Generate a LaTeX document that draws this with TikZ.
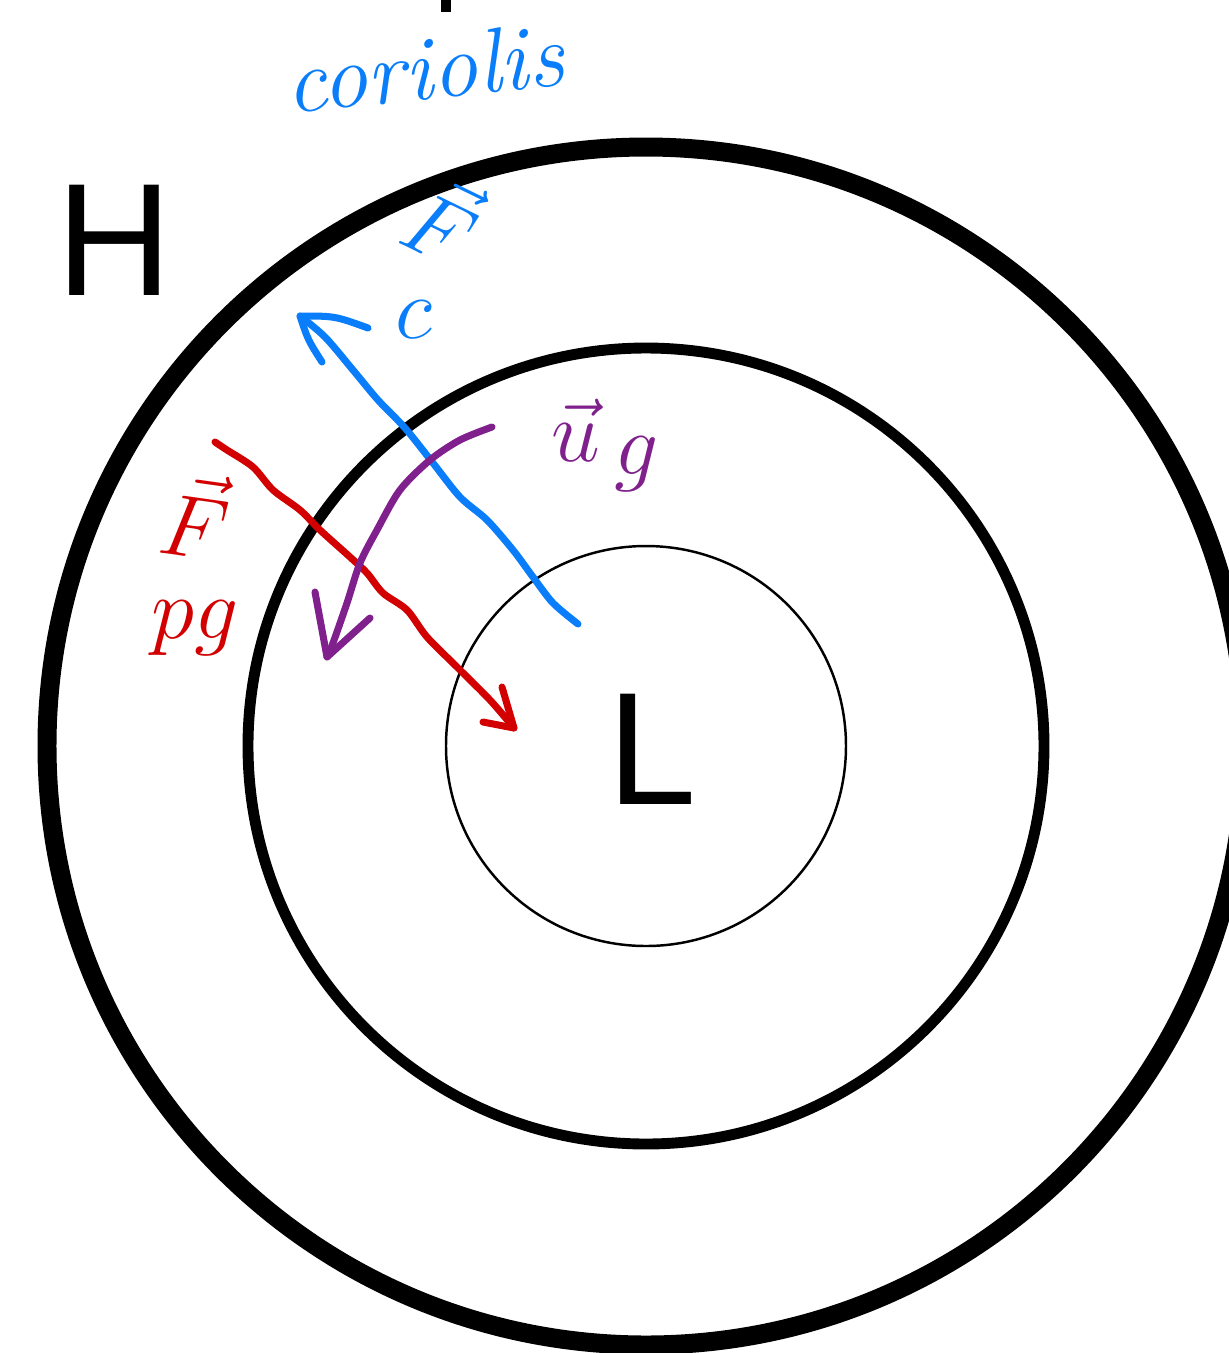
\documentclass[tikz,border=0pt]{standalone}
\usepackage{fontspec}
\newfontfamily\arialfont{Liberation Sans}
\definecolor{cblue}{RGB}{10,126,250}
\definecolor{cred}{RGB}{210,0,0}
\definecolor{cpurple}{RGB}{128,32,140}
\begin{document}
\begin{tikzpicture}[x=.01cm,y=-.01cm,line cap=round,line join=round,
  every node/.style={inner sep=0pt},
  pen/.style={line width=2pt},
  big/.style={font=\arialfont\fontsize{45.6}{46}\selectfont},
  hand/.style={font=\fontsize{#1}{#1}\selectfont}]
  \path[use as bounding box] (0,0) rectangle (1229,1353);
  \coordinate (O) at (646,746);
  \draw[line width=5.4pt] (O) circle[radius=599];
  \draw[line width=3.1pt] (O) circle[radius=398];
  \draw[line width=.7pt] (O) circle[radius=200];
  \fill (441,0) rectangle (451,12);
  \node[big] (H) at (114,240) {H};
  \node[big] (L) at (652,749) {L};
  % coriolis
  \coordinate (Cs) at (578,624);
  \coordinate (Ce) at (300,316);
  \draw[pen,cblue] plot[smooth] coordinates {(Cs) (553,603) (533,577) (513,550) (487,520)
    (460,497) (433,463) (405,428) (378,400) (353,370) (325,337) (Ce)};
  \draw[pen,cblue] (322,362) .. controls (308,340) .. (Ce) .. controls (335,316) .. (368,328);
  \node[hand=26,cblue,rotate=6] (cor) at (424,68) {\itshape coriolis};
  \node[hand=25,cblue,rotate=-26] (Fc) at (444,218) {$\vec F$};
  \node[hand=25,cblue] (c) at (414,320) {$c$};
  % pressure gradient
  \coordinate (Ps) at (215,442);
  \coordinate (Pe) at (514,728);
  \draw[pen,cred] plot[smooth] coordinates {(Ps) (227,450) (253,467) (273,490) (300,510)
    (320,530) (350,557) (367,573) (383,593) (407,610) (427,637) (457,667) (490,700) (Pe)};
  \draw[pen,cred] (483,722) -- (Pe) -- (502,687);
  \node[hand=30,cred,rotate=-8] (Fp) at (196,515) {$\vec F$};
  \node[hand=28,cred] (pg) at (195,628) {$pg$};
  % geostrophic wind
  \coordinate (Us) at (492,427);
  \coordinate (Ue) at (327,657);
  \draw[pen,cpurple] plot[smooth] coordinates {(Us) (460,440) (430,460) (400,490) (377,530)
    (360,563) (347,603) (333,643) (Ue)};
  \draw[pen,cpurple] (315,592) -- (Ue) -- (370,618);
  \node[hand=26,cpurple] (ug) at (606,445) {$\vec u_{\textstyle\,g}$};
\end{tikzpicture}
\end{document}
